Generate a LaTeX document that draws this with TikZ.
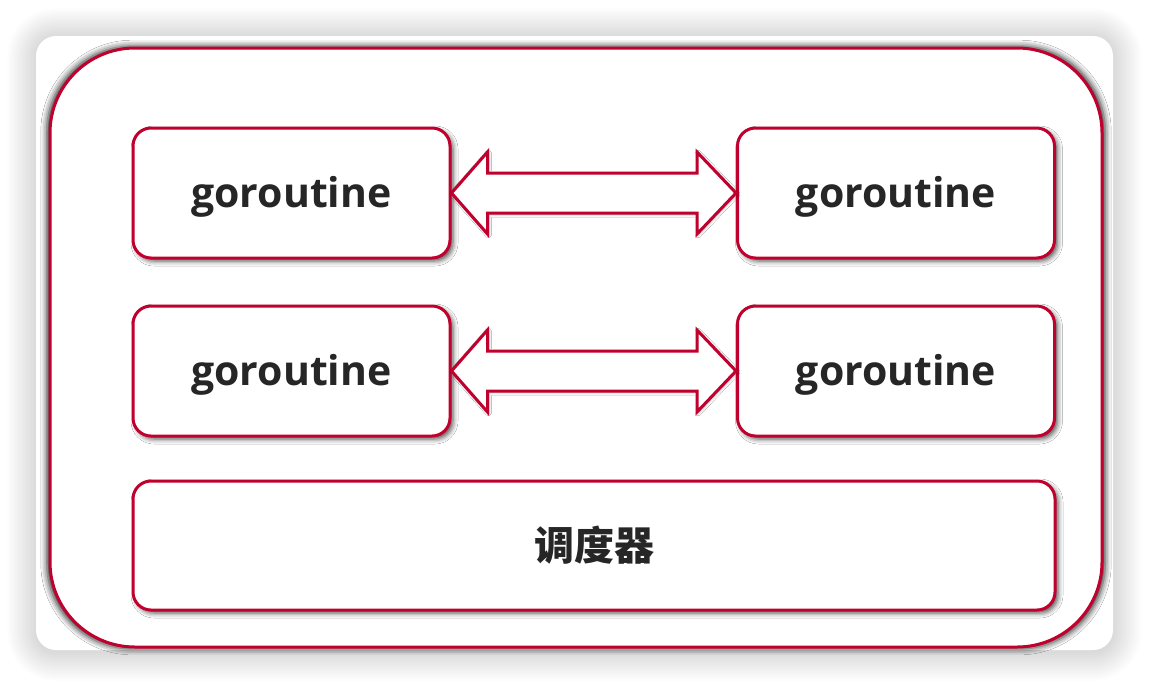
\documentclass[tikz,border=0pt]{standalone}
\usepackage{fontspec}
\setmainfont{Open Sans}
\newfontfamily\cjk{Noto Sans CJK SC}
\usetikzlibrary{calc,shadows.blur}
\definecolor{frame}{RGB}{192,0,45}
\definecolor{txt}{RGB}{38,38,38}
\tikzset{
  outerframe/.style={draw=frame,line width=3pt,fill=white,rounded corners=85pt,
    blur shadow={shadow xshift=0pt,shadow yshift=0pt,shadow blur radius=6pt,shadow opacity=85,shadow scale=1.006}},
  gbox/.style={draw=frame,line width=3pt,fill=white,rounded corners=18pt,
    minimum width=317pt,minimum height=130pt,inner sep=0pt,text=txt,
    text height=36pt,text depth=8pt,
    font=\fontsize{41}{41}\selectfont\bfseries,
    blur shadow={shadow xshift=3pt,shadow yshift=-3pt,shadow blur radius=5pt,shadow opacity=70}},
  dbl/.style={draw=frame,line width=3pt,fill=white,line join=miter,
    blur shadow={shadow xshift=1pt,shadow yshift=-1pt,shadow blur radius=3pt,shadow opacity=35}}
}
\begin{document}
\begin{tikzpicture}[x=1pt,y=-1pt]
\useasboundingbox (0,0) rectangle (1150,686);
\fill[white] (0,0) rectangle (1150,686);
% soft card shadow
\foreach \i in {1,...,18}{
  \fill[black,opacity=0.008,rounded corners={20pt+\i*1.6pt}]
    ($(36,37)+(-\i*1.6,-\i*1.6)$) rectangle ($(1113,652)+(\i*1.6,\i*1.6)$);
}
\fill[white,rounded corners=20pt] (36,36) rectangle (1113,650);
\path[outerframe] (50,48) rectangle (1102,647);
\node[gbox] (g11) at (291.5,193) {goroutine};
\node[gbox] (g12) at (896,193) {goroutine};
\node[gbox] (g21) at (291.5,371) {goroutine};
\node[gbox] (g22) at (896,371) {goroutine};
\node[gbox,minimum width=922pt,minimum height=129pt,text height=,text depth=,font=\fontsize{40}{40}\cjk\bfseries] (sch) at (594,545.5) {调度器};
\foreach \a/\b in {g11/g12,g21/g22}{
  \draw[dbl] (\a.east) -- ++(36,-41) -- ++(0,21) -- ($(\b.west)+(-39,-20)$) -- ++(0,-21) -- (\b.west)
    -- ++(-39,41) -- ++(0,-21) -- ($(\a.east)+(36,20)$) -- ++(0,21) -- cycle;
}
\end{tikzpicture}
\end{document}
